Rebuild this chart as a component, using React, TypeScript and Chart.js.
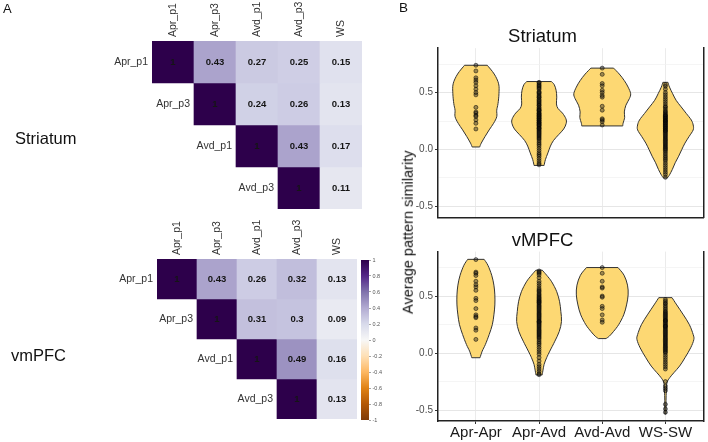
import React, { useEffect, useRef } from 'react';
import { Chart, registerables } from 'chart.js';

Chart.register(...registerables);

const FONT = '"Liberation Sans", Arial, Helvetica, sans-serif';
Chart.defaults.font.family = FONT;

// ---------------- Panel A: correlation matrices ----------------
const matrixColumns = ['Apr_p1', 'Apr_p3', 'Avd_p1', 'Avd_p3', 'WS'];
const matrixRowLabels = ['Apr_p1', 'Apr_p3', 'Avd_p1', 'Avd_p3'];

const striatumAprP1 = [1, 0.43, 0.27, 0.25, 0.15];
const striatumAprP3 = [null, 1, 0.24, 0.26, 0.13];
const striatumAvdP1 = [null, null, 1, 0.43, 0.17];
const striatumAvdP3 = [null, null, null, 1, 0.11];

const vmpfcAprP1 = [1, 0.43, 0.26, 0.32, 0.13];
const vmpfcAprP3 = [null, 1, 0.31, 0.3, 0.09];
const vmpfcAvdP1 = [null, null, 1, 0.49, 0.16];
const vmpfcAvdP3 = [null, null, null, 1, 0.13];

const colorbarTicks = [-1, -0.8, -0.6, -0.4, -0.2, 0, 0.2, 0.4, 0.6, 0.8, 1];
const puOrPalette = ['#7F3B08', '#B35806', '#E08214', '#FDB863', '#FEE0B6', '#F7F7F7', '#D8DAEB', '#B2ABD2', '#8073AC', '#542788', '#2D004B'];

// ---------------- Panel B: violin plots ----------------
const violinCategories = ['Apr-Apr', 'Apr-Avd', 'Avd-Avd', 'WS-SW'];
const categoryPositions = [1, 2, 3, 4];
const yTickValues = [-0.5, -0.25, 0, 0.25, 0.5, 0.75];
const yMajorTicks = [-0.5, 0, 0.5];
const yRange = [-0.596, 0.89];

// Striatum points
const striatumAprAprPoints = [0.74, 0.69, 0.63, 0.61, 0.59, 0.56, 0.53, 0.5, 0.48, 0.37, 0.33, 0.32, 0.3, 0.29, 0.26, 0.23, 0.18];
const striatumAprAvdPoints = [0.59, 0.585, 0.57, 0.56, 0.55, 0.54, 0.53, 0.51, 0.5, 0.495, 0.48, 0.47, 0.46, 0.455, 0.44, 0.43, 0.42, 0.41, 0.4, 0.39, 0.385, 0.37, 0.36, 0.35, 0.345, 0.34, 0.33, 0.32, 0.315, 0.31, 0.3, 0.295, 0.29, 0.28, 0.275, 0.27, 0.26, 0.255, 0.25, 0.24, 0.235, 0.23, 0.22, 0.215, 0.21, 0.2, 0.19, 0.185, 0.18, 0.17, 0.16, 0.15, 0.14, 0.13, 0.12, 0.11, 0.1, 0.09, 0.075, 0.06, 0.045, 0.03, 0.01, -0.01, -0.03, -0.045, -0.06, -0.08, -0.1, -0.12, -0.135];
const striatumAvdAvdPoints = [0.715, 0.66, 0.58, 0.56, 0.52, 0.5, 0.475, 0.46, 0.38, 0.345, 0.27, 0.26, 0.245, 0.215];
const striatumWsSwPoints = [0.57, 0.555, 0.53, 0.5, 0.48, 0.46, 0.44, 0.42, 0.4, 0.38, 0.37, 0.355, 0.34, 0.33, 0.32, 0.31, 0.3, 0.295, 0.29, 0.28, 0.275, 0.27, 0.26, 0.255, 0.25, 0.245, 0.24, 0.23, 0.225, 0.22, 0.21, 0.205, 0.2, 0.19, 0.185, 0.18, 0.17, 0.165, 0.16, 0.15, 0.14, 0.13, 0.12, 0.11, 0.1, 0.09, 0.08, 0.07, 0.06, 0.05, 0.04, 0.03, 0.02, 0.01, 0.0, -0.01, -0.025, -0.04, -0.055, -0.07, -0.085, -0.1, -0.12, -0.14, -0.16, -0.18, -0.2, -0.22, -0.245];

// vMPFC points
const vmpfcAprAprPoints = [0.82, 0.71, 0.7, 0.68, 0.63, 0.6, 0.58, 0.55, 0.48, 0.46, 0.39, 0.335, 0.32, 0.31, 0.22, 0.2, 0.12];
const vmpfcAprAvdPoints = [0.72, 0.71, 0.7, 0.685, 0.66, 0.63, 0.61, 0.59, 0.57, 0.555, 0.545, 0.535, 0.52, 0.51, 0.5, 0.49, 0.48, 0.47, 0.46, 0.455, 0.445, 0.44, 0.43, 0.42, 0.41, 0.4, 0.39, 0.38, 0.37, 0.36, 0.35, 0.34, 0.33, 0.32, 0.31, 0.3, 0.29, 0.28, 0.275, 0.27, 0.26, 0.25, 0.24, 0.23, 0.22, 0.21, 0.2, 0.19, 0.18, 0.17, 0.16, 0.15, 0.14, 0.13, 0.115, 0.1, 0.085, 0.07, 0.05, 0.03, 0.01, -0.01, -0.04, -0.07, -0.1, -0.12, -0.14, -0.16, -0.18, -0.19];
const vmpfcAvdAvdPoints = [0.75, 0.7, 0.63, 0.58, 0.57, 0.5, 0.49, 0.41, 0.39, 0.335, 0.29, 0.27];
const vmpfcWsSwPoints = [0.47, 0.455, 0.44, 0.43, 0.415, 0.4, 0.385, 0.37, 0.36, 0.35, 0.34, 0.33, 0.32, 0.31, 0.3, 0.29, 0.285, 0.28, 0.27, 0.26, 0.25, 0.24, 0.235, 0.23, 0.22, 0.21, 0.2, 0.19, 0.18, 0.17, 0.16, 0.15, 0.14, 0.13, 0.12, 0.11, 0.1, 0.09, 0.08, 0.07, 0.06, 0.05, 0.04, 0.03, 0.02, 0.01, 0.0, -0.02, -0.04, -0.06, -0.08, -0.1, -0.12, -0.14, -0.25, -0.29, -0.31, -0.33, -0.45, -0.49, -0.52];

// Violin outlines: [value, half-width in category units], from top to bottom
const striatumAprAprOutline = [[0.74, 0.18], [0.663, 0.29], [0.577, 0.36], [0.49, 0.365], [0.403, 0.35], [0.345, 0.33], [0.288, 0.33], [0.23, 0.28], [0.172, 0.21], [0.114, 0.145], [0.056, 0.085], [0.022, 0.06]];
const striatumAprAvdOutline = [[0.597, 0.195], [0.57, 0.24], [0.52, 0.27], [0.46, 0.28], [0.4, 0.275], [0.36, 0.3], [0.32, 0.37], [0.27, 0.425], [0.23, 0.43], [0.18, 0.39], [0.13, 0.31], [0.08, 0.23], [0.03, 0.18], [-0.03, 0.14], [-0.09, 0.1], [-0.14, 0.08]];
const striatumAvdAvdOutline = [[0.715, 0.18], [0.663, 0.27], [0.605, 0.35], [0.548, 0.41], [0.49, 0.45], [0.447, 0.43], [0.389, 0.375], [0.33, 0.35], [0.282, 0.355], [0.23, 0.33], [0.207, 0.325]];
const striatumWsSwOutline = [[0.59, 0.04], [0.548, 0.065], [0.49, 0.115], [0.432, 0.17], [0.374, 0.25], [0.317, 0.33], [0.259, 0.41], [0.215, 0.44], [0.172, 0.44], [0.114, 0.375], [0.056, 0.31], [0.0, 0.26], [-0.059, 0.21], [-0.117, 0.155], [-0.175, 0.11], [-0.228, 0.06], [-0.25, 0.03]];

const vmpfcAprAprOutline = [[0.822, 0.13], [0.77, 0.19], [0.683, 0.25], [0.596, 0.285], [0.51, 0.3], [0.422, 0.3], [0.335, 0.285], [0.249, 0.26], [0.162, 0.21], [0.075, 0.15], [0.017, 0.1], [-0.041, 0.065]];
const vmpfcAprAvdOutline = [[0.727, 0.05], [0.683, 0.12], [0.625, 0.2], [0.538, 0.28], [0.45, 0.325], [0.364, 0.345], [0.277, 0.355], [0.19, 0.32], [0.104, 0.25], [0.017, 0.17], [-0.041, 0.12], [-0.099, 0.08], [-0.157, 0.06], [-0.192, 0.05]];
const vmpfcAvdAvdOutline = [[0.75, 0.25], [0.683, 0.345], [0.596, 0.4], [0.51, 0.41], [0.422, 0.385], [0.335, 0.34], [0.249, 0.26], [0.19, 0.18], [0.147, 0.11], [0.127, 0.06]];
const vmpfcWsSwOutline = [[0.486, 0.105], [0.422, 0.18], [0.335, 0.285], [0.249, 0.38], [0.162, 0.44], [0.118, 0.45], [0.046, 0.4], [-0.041, 0.31], [-0.114, 0.225], [-0.172, 0.135], [-0.215, 0.07], [-0.259, 0.025], [-0.332, 0.015], [-0.418, 0.01], [-0.534, 0.01]];

const VIOLIN_FILL = '#FDD873';
const VIOLIN_STROKE = '#333333';

// ---------------- helpers ----------------
function hexToRgb(h: string) {
  const n = parseInt(h.slice(1), 16);
  return [(n >> 16) & 255, (n >> 8) & 255, n & 255];
}
function corrColor(v: number) {
  const t = ((v + 1) / 2) * (puOrPalette.length - 1);
  const i = Math.max(0, Math.min(Math.floor(t), puOrPalette.length - 2));
  const f = t - i;
  const a = hexToRgb(puOrPalette[i]);
  const b = hexToRgb(puOrPalette[i + 1]);
  const c = a.map((av, k) => Math.round(av + (b[k] - av) * f));
  return `rgb(${c[0]},${c[1]},${c[2]})`;
}
function fmtCorr(v: number) {
  return String(v);
}

type Box = { left: number; top: number; width: number; height: number };
type Pad = { left: number; top: number; right: number; bottom: number };

function CorrMatrix({ rows, box, pad }: { rows: (number | null)[][]; box: Box; pad: Pad }) {
  const ref = useRef<HTMLCanvasElement | null>(null);
  useEffect(() => {
    const datasets = rows.map((row, i) => ({
      label: matrixRowLabels[i],
      data: row.map((v) => (v == null ? null : [i, i + 1])),
      backgroundColor: row.map((v) => (v == null ? 'rgba(0,0,0,0)' : corrColor(v))),
      borderWidth: 0,
      barPercentage: 1,
      categoryPercentage: 1,
      grouped: false,
    }));
    const labelPlugin = {
      id: 'corrLabels',
      afterDatasetsDraw(chart: any) {
        const ctx = chart.ctx;
        const xs = chart.scales.x;
        const ys = chart.scales.y;
        ctx.save();
        // cell values
        ctx.font = `bold 9.5px ${FONT}`;
        ctx.fillStyle = '#151515';
        ctx.textAlign = 'center';
        ctx.textBaseline = 'middle';
        rows.forEach((row, i) => {
          row.forEach((v, j) => {
            if (v == null) return;
            ctx.fillText(fmtCorr(v), xs.getPixelForValue(j), ys.getPixelForValue(i + 0.5) + 0.5);
          });
        });
        // row labels, left of diagonal cell
        ctx.font = `10.5px ${FONT}`;
        ctx.fillStyle = '#333';
        ctx.textAlign = 'right';
        rows.forEach((row, i) => {
          const el = chart.getDatasetMeta(i).data[i];
          ctx.fillText(matrixRowLabels[i], el.x - el.width / 2 - 4, ys.getPixelForValue(i + 0.5) + 0.5);
        });
        // column labels, rotated
        ctx.textAlign = 'left';
        matrixColumns.forEach((c, j) => {
          ctx.save();
          ctx.translate(xs.getPixelForValue(j) + 0.5, chart.chartArea.top - 4);
          ctx.rotate(-Math.PI / 2);
          ctx.fillText(c, 0, 0);
          ctx.restore();
        });
        ctx.restore();
      },
    };
    const chart = new Chart(ref.current as HTMLCanvasElement, {
      type: 'bar',
      data: { labels: matrixColumns, datasets: datasets as any },
      options: {
        animation: false,
        responsive: false,
        maintainAspectRatio: false,
        events: [],
        layout: { padding: pad },
        plugins: { legend: { display: false }, tooltip: { enabled: false } },
        scales: {
          x: { type: 'category', display: false },
          y: { type: 'linear', min: 0, max: 4, reverse: true, display: false },
        },
      },
      plugins: [labelPlugin],
    });
    return () => chart.destroy();
  }, []);
  return (
    <canvas
      ref={ref}
      width={box.width}
      height={box.height}
      style={{ position: 'absolute', left: box.left, top: box.top, width: box.width, height: box.height }}
    />
  );
}

function ColorBar({ box }: { box: Box }) {
  const ref = useRef<HTMLCanvasElement | null>(null);
  useEffect(() => {
    const gradientPlugin = {
      id: 'gradientBar',
      beforeDatasetsDraw(chart: any) {
        const { ctx, chartArea } = chart;
        const ys = chart.scales.y;
        const y1 = ys.getPixelForValue(1);
        const y0 = ys.getPixelForValue(-1);
        const g = ctx.createLinearGradient(0, y0, 0, y1);
        puOrPalette.forEach((c, k) => g.addColorStop(k / (puOrPalette.length - 1), c));
        ctx.save();
        ctx.fillStyle = g;
        ctx.fillRect(chartArea.left, y1, chartArea.right - chartArea.left, y0 - y1);
        ctx.restore();
      },
    };
    const chart = new Chart(ref.current as HTMLCanvasElement, {
      type: 'bar',
      data: { labels: [''], datasets: [] },
      options: {
        animation: false,
        responsive: false,
        maintainAspectRatio: false,
        events: [],
        layout: { padding: { left: 6, top: 10, right: 0, bottom: 10 } },
        plugins: { legend: { display: false }, tooltip: { enabled: false } },
        scales: {
          x: { display: false },
          y: {
            type: 'linear',
            position: 'right',
            min: -1,
            max: 1,
            afterBuildTicks: (s: any) => {
              s.ticks = colorbarTicks.map((v) => ({ value: v }));
            },
            afterFit: (s: any) => {
              s.width = 26;
              s.paddingTop = 0;
              s.paddingBottom = 0;
            },
            ticks: {
              font: { size: 5.5, family: FONT },
              color: '#555',
              padding: 1.5,
              callback: (v: any) => {
                const r = Math.round(Number(v) * 10) / 10;
                return r === 0 ? '0' : String(r);
              },
            },
            grid: { drawOnChartArea: false, tickLength: 2, color: '#666', lineWidth: 0.6 },
            border: { display: false },
          },
        },
      },
      plugins: [gradientPlugin],
    });
    return () => chart.destroy();
  }, []);
  return (
    <canvas
      ref={ref}
      width={box.width}
      height={box.height}
      style={{ position: 'absolute', left: box.left, top: box.top, width: box.width, height: box.height }}
    />
  );
}

function splineThrough(ctx: CanvasRenderingContext2D, pts: { x: number; y: number }[]) {
  for (let i = 0; i < pts.length - 1; i++) {
    const p0 = pts[i - 1] || pts[i];
    const p1 = pts[i];
    const p2 = pts[i + 1];
    const p3 = pts[i + 2] || p2;
    const t = 1 / 6;
    ctx.bezierCurveTo(
      p1.x + (p2.x - p0.x) * t,
      p1.y + (p2.y - p0.y) * t,
      p2.x - (p3.x - p1.x) * t,
      p2.y - (p3.y - p1.y) * t,
      p2.x,
      p2.y
    );
  }
}

function ViolinPanel({
  title,
  points,
  outlines,
  box,
  pad,
  showX,
  xAxisHeight,
}: {
  title: string;
  points: number[][];
  outlines: number[][][];
  box: Box;
  pad: Pad;
  showX: boolean;
  xAxisHeight: number;
}) {
  const ref = useRef<HTMLCanvasElement | null>(null);
  useEffect(() => {
    const violinPlugin = {
      id: 'violins',
      beforeDatasetsDraw(chart: any) {
        const ctx = chart.ctx;
        const xs = chart.scales.x;
        const ys = chart.scales.y;
        ctx.save();
        outlines.forEach((outline, k) => {
          const c = categoryPositions[k];
          const right = outline.map(([v, w]) => ({ x: xs.getPixelForValue(c + w), y: ys.getPixelForValue(v) }));
          const left = outline
            .map(([v, w]) => ({ x: xs.getPixelForValue(c - w), y: ys.getPixelForValue(v) }))
            .reverse();
          ctx.beginPath();
          ctx.moveTo(left[left.length - 1].x, left[left.length - 1].y);
          ctx.lineTo(right[0].x, right[0].y);
          splineThrough(ctx, right);
          ctx.lineTo(left[0].x, left[0].y);
          splineThrough(ctx, left);
          ctx.closePath();
          ctx.fillStyle = VIOLIN_FILL;
          ctx.fill();
          ctx.lineWidth = 1;
          ctx.strokeStyle = VIOLIN_STROKE;
          ctx.lineJoin = 'round';
          ctx.stroke();
        });
        ctx.restore();
      },
    };
    const isMajor = (v: number) => yMajorTicks.some((m) => Math.abs(m - v) < 1e-6);
    const chart = new Chart(ref.current as HTMLCanvasElement, {
      type: 'scatter',
      data: {
        datasets: points.map((vals, k) => ({
          label: violinCategories[k],
          data: vals.map((v) => ({ x: categoryPositions[k], y: v })),
          pointRadius: 2,
          pointBackgroundColor: 'rgba(25,25,25,0.42)',
          pointBorderColor: 'rgba(0,0,0,0.7)',
          pointBorderWidth: 0.7,
        })),
      },
      options: {
        animation: false,
        responsive: false,
        maintainAspectRatio: false,
        events: [],
        layout: { padding: pad },
        plugins: {
          legend: { display: false },
          tooltip: { enabled: false },
          title: {
            display: true,
            text: title,
            color: '#111',
            font: { size: 18.5, family: FONT, weight: 'normal' as any },
            padding: 0,
          },
        },
        scales: {
          x: {
            type: 'linear',
            min: 0.4,
            max: 4.6,
            afterBuildTicks: (s: any) => {
              s.ticks = categoryPositions.map((v) => ({ value: v }));
            },
            afterFit: (s: any) => {
              s.height = xAxisHeight;
              s.paddingLeft = 0;
              s.paddingRight = 0;
            },
            ticks: {
              display: showX,
              autoSkip: false,
              maxRotation: 0,
              padding: 0,
              color: '#1a1a1a',
              font: { size: 15, family: FONT },
              callback: (v: any) => violinCategories[Math.round(Number(v)) - 1],
            },
            grid: { color: '#ebebeb', lineWidth: 1, drawTicks: showX, tickLength: 3, tickColor: '#333' },
            border: { display: true, color: '#222', width: 1.5 },
          },
          y: {
            type: 'linear',
            min: yRange[0],
            max: yRange[1],
            afterBuildTicks: (s: any) => {
              s.ticks = yTickValues.map((v) => ({ value: v }));
            },
            afterFit: (s: any) => {
              s.width = 58;
              s.paddingTop = 0;
              s.paddingBottom = 0;
            },
            ticks: {
              autoSkip: false,
              padding: 2,
              color: '#4d4d4d',
              font: { size: 10, family: FONT },
              callback: (v: any) => (isMajor(Number(v)) ? Number(v).toFixed(1) : ''),
            },
            grid: {
              color: (c: any) => (c.tick && isMajor(c.tick.value) ? '#e6e6e6' : '#f0f0f0'),
              lineWidth: (c: any) => (c.tick && isMajor(c.tick.value) ? 1 : 0.7),
              tickLength: 3,
              tickColor: (c: any) => (c.tick && isMajor(c.tick.value) ? '#333' : 'rgba(0,0,0,0)'),
            },
            border: { display: true, color: '#222', width: 1.5 },
          },
          y2: {
            type: 'linear',
            position: 'right',
            display: true,
            afterFit: (s: any) => {
              s.width = 0;
              s.paddingTop = 0;
              s.paddingBottom = 0;
            },
            ticks: { display: false },
            grid: { display: false },
            border: { display: true, color: '#222', width: 1.5 },
          },
        },
      } as any,
      plugins: [violinPlugin],
    });
    return () => chart.destroy();
  }, []);
  return (
    <canvas
      ref={ref}
      width={box.width}
      height={box.height}
      style={{ position: 'absolute', left: box.left, top: box.top, width: box.width, height: box.height }}
    />
  );
}

const striatumRows = [striatumAprP1, striatumAprP3, striatumAvdP1, striatumAvdP3];
const vmpfcRows = [vmpfcAprP1, vmpfcAprP3, vmpfcAvdP1, vmpfcAvdP3];

export default function App() {
  const txt = (s: any): React.CSSProperties => ({
    position: 'absolute',
    whiteSpace: 'nowrap',
    fontFamily: FONT,
    color: '#111',
    ...s,
  });
  return (
    <div
      style={{
        position: 'absolute',
        left: 0,
        top: 0,
        width: 708,
        height: 442,
        background: '#fff',
        overflow: 'hidden',
      }}
    >
      <CorrMatrix rows={striatumRows} box={{ left: 0, top: 0, width: 370, height: 215 }} pad={{ left: 152, top: 41, right: 8, bottom: 6 }} />
      <CorrMatrix rows={vmpfcRows} box={{ left: 0, top: 215, width: 362, height: 227 }} pad={{ left: 157, top: 44, right: 5, bottom: 23 }} />
      <ColorBar box={{ left: 355, top: 250, width: 40, height: 180 }} />
      <ViolinPanel
        title="Striatum"
        points={[striatumAprAprPoints, striatumAprAvdPoints, striatumAvdAvdPoints, striatumWsSwPoints]}
        outlines={[striatumAprAprOutline, striatumAprAvdOutline, striatumAvdAvdOutline, striatumWsSwOutline]}
        box={{ left: 380, top: 0, width: 328, height: 222 }}
        pad={{ left: 0, top: 26, right: 3, bottom: 3 }}
        showX={false}
        xAxisHeight={0}
      />
      <ViolinPanel
        title="vMPFC"
        points={[vmpfcAprAprPoints, vmpfcAprAvdPoints, vmpfcAvdAvdPoints, vmpfcWsSwPoints]}
        outlines={[vmpfcAprAprOutline, vmpfcAprAvdOutline, vmpfcAvdAvdOutline, vmpfcWsSwOutline]}
        box={{ left: 380, top: 222, width: 328, height: 220 }}
        pad={{ left: 0, top: 7.4, right: 3, bottom: 0 }}
        showX={true}
        xAxisHeight={21}
      />
      <div style={txt({ left: 3, top: 1.6, fontSize: 13, lineHeight: '13px' })}>A</div>
      <div style={txt({ left: 399, top: 1.3, fontSize: 13.5, lineHeight: '13.5px' })}>B</div>
      <div style={txt({ left: 15, top: 129.75, fontSize: 16.5, lineHeight: '16.5px' })}>Striatum</div>
      <div style={txt({ left: 11, top: 347, fontSize: 16.5, lineHeight: '16.5px' })}>vmPFC</div>
      <div
        style={txt({
          left: 408 - 150,
          top: 232.5 - 7.25,
          width: 300,
          textAlign: 'center',
          fontSize: 14.5,
          lineHeight: '14.5px',
          transform: 'rotate(-90deg)',
          transformOrigin: '50% 50%',
        })}
      >
        Average pattern similarity
      </div>
    </div>
  );
}
